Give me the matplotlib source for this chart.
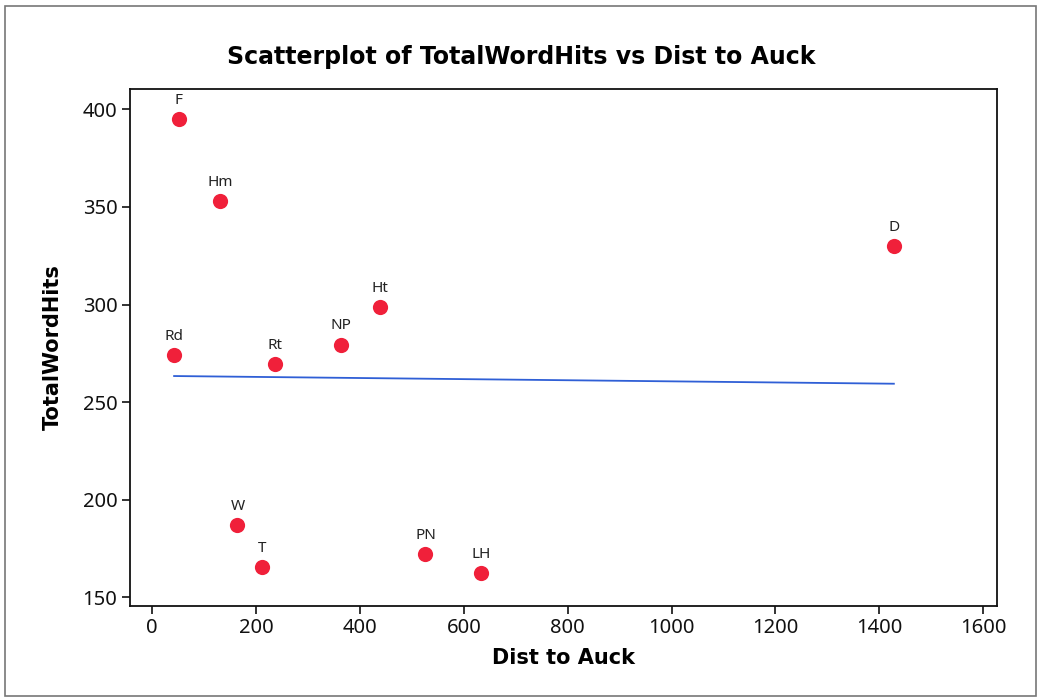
import numpy as np
import matplotlib.pyplot as plt
from matplotlib.patches import Rectangle

towns = ["F", "Hm", "Rd", "Rt", "NP", "Ht", "D", "W", "T", "PN", "LH"]
dist_to_auck = [51, 130, 42, 237, 364, 438, 1428, 164, 212, 526, 633]
total_word_hits = [395, 353, 274, 269.5, 279.5, 298.5, 330, 187, 165.5, 172, 162.5]

plt.rcParams['font.family'] = ['Noto Sans', 'DejaVu Sans']
bold_font = dict(family="DejaVu Sans", fontweight="bold")

fig = plt.figure(figsize=(10.43, 6.98), dpi=100)
ax = fig.add_axes([0.1246, 0.1322, 0.8310, 0.7399])

ax.scatter(dist_to_auck, total_word_hits, s=120, color="#f0203a", zorder=3, linewidths=0)
for name, x, y in zip(towns, dist_to_auck, total_word_hits):
    ax.annotate(name, (x, y), xytext=(0, 8), textcoords="offset points",
                ha="center", va="bottom", fontsize=11, color="#222222")

# least squares fit line over the range of x
slope, intercept = np.polyfit(dist_to_auck, total_word_hits, 1)
xs = np.array([min(dist_to_auck), max(dist_to_auck)])
ax.plot(xs, slope * xs + intercept, color="#2f5fd6", lw=1.3, zorder=2)

ax.set_xlim(-43, 1626)
ax.set_ylim(145.7, 410.3)
ax.set_xticks(range(0, 1601, 200))
ax.set_yticks(range(150, 401, 50))
ax.tick_params(direction="out", length=6, width=1.2, labelsize=14.5, colors="#111111", pad=3)
for sp in ax.spines.values():
    sp.set_linewidth(1.3)
    sp.set_color("#111111")

ax.set_xlabel("Dist to Auck", fontsize=15, labelpad=7, **bold_font)
ax.set_ylabel("TotalWordHits", fontsize=15, labelpad=14, **bold_font)
fig.text(0.5, 0.918, "Scatterplot of TotalWordHits vs Dist to Auck",
         ha="center", va="center", fontsize=17, **bold_font)

# thin outer frame of the graph window
fig.patches.append(Rectangle((5 / 1043, 2 / 698), 1031 / 1043, 690 / 698,
                             transform=fig.transFigure, fill=False,
                             edgecolor="#777777", lw=1.2))

fig.savefig("out.png", dpi=100)
